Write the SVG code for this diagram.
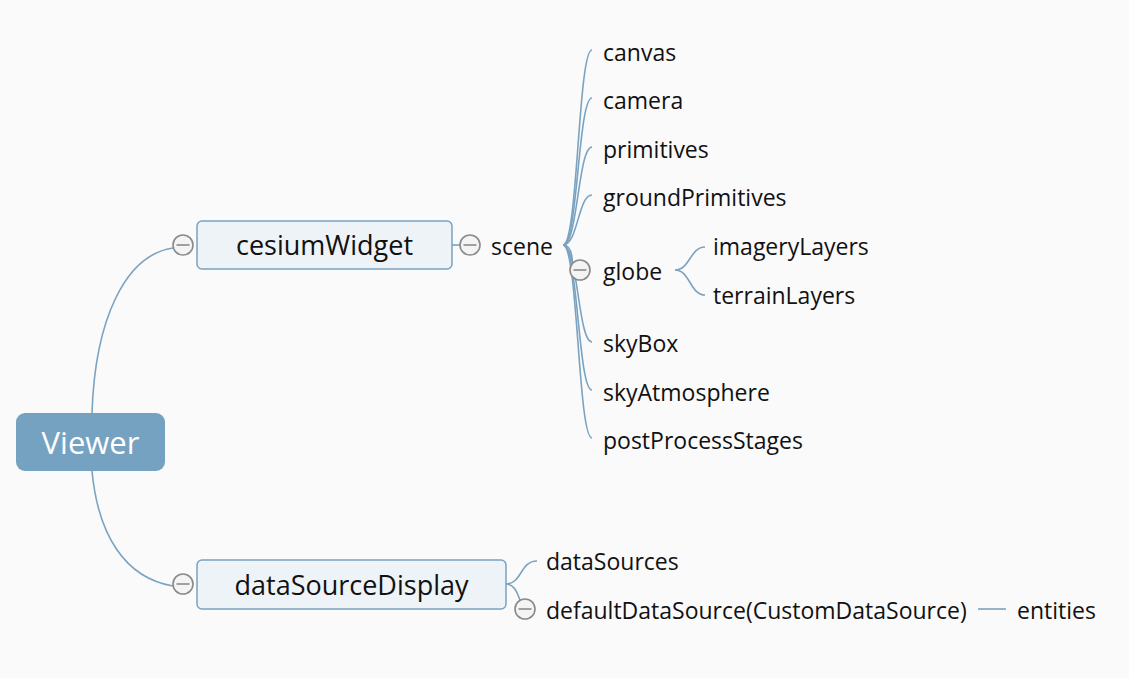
<svg xmlns="http://www.w3.org/2000/svg" width="1129" height="678" viewBox="0 0 1129 678">
<style>
.bg{fill:#fafafa}
.ln{fill:none;stroke:#7aa3c2;stroke-width:1.6}
.t{font-family:"Open Sans","Noto Sans",sans-serif;font-size:23px;fill:#111}
.tb{font-family:"Open Sans","Noto Sans",sans-serif;font-size:27px;fill:#111;text-anchor:middle}
.box{fill:#eef3f7;stroke:#7aa3c2;stroke-width:1.5}
.cc{fill:#f4f4f4;stroke:#8a8a8a;stroke-width:1.6}
.cl{stroke:#8a8a8a;stroke-width:1.6}
</style>
<defs>
<g id="col"><circle class="cc" r="10"/><line class="cl" x1="-6.5" y1="0" x2="6.5" y2="0"/></g>
</defs>
<rect class="bg" width="1129" height="678"/>
<g id="connectors">
<path class="ln" d="M92,413 C95,320 125,255 173,248"/>
<path class="ln" d="M92,471 C98,535 125,578 173,586"/>
<path class="ln" d="M452,245 L460,245"/>
<path class="ln" d="M563,245 C578,245 578,50 592,50"/>
<path class="ln" d="M563,245 C578,245 578,98 592,98"/>
<path class="ln" d="M563,245 C578,245 578,147 592,147"/>
<path class="ln" d="M563,245 C578,245 578,195 592,195"/>
<path class="ln" d="M563,245 C575,245 572,270 572,270"/>
<path class="ln" d="M563,245 C578,245 578,342 592,342"/>
<path class="ln" d="M563,245 C578,245 578,390 592,390"/>
<path class="ln" d="M563,245 C578,245 578,438 592,438"/>
<path class="ln" d="M675,270 C690,270 690,247 705,247"/>
<path class="ln" d="M675,270 C690,270 690,295 705,295"/>
<path class="ln" d="M506,584 C522,584 520,561 537,561"/>
<path class="ln" d="M506,584 C515,584 518,595 520,600"/>
<path class="ln" d="M978,609 L1006,609"/>
</g>
<g id="viewer"><rect x="16" y="413" width="149" height="58" rx="9" fill="#76a2c2"/><text x="90.5" y="454" font-family="Open Sans,Noto Sans,sans-serif" font-size="31" fill="#fff" text-anchor="middle">Viewer</text></g>
<g id="cesiumWidget"><rect class="box" x="197" y="221" width="255" height="48" rx="5"/><text class="tb" x="324.5" y="255">cesiumWidget</text><use href="#col" x="183" y="245"/></g>
<g id="scene"><use href="#col" x="470" y="245"/><text class="t" x="491" y="255">scene</text></g>
<g id="canvas"><text class="t" x="603" y="61">canvas</text></g>
<g id="camera"><text class="t" x="603" y="109">camera</text></g>
<g id="primitives"><text class="t" x="603" y="158">primitives</text></g>
<g id="groundPrimitives"><text class="t" x="603" y="206">groundPrimitives</text></g>
<g id="globe"><use href="#col" x="580" y="270"/><text class="t" x="603" y="280">globe</text></g>
<g id="imageryLayers"><text class="t" x="713" y="255">imageryLayers</text></g>
<g id="terrainLayers"><text class="t" x="713" y="304">terrainLayers</text></g>
<g id="skyBox"><text class="t" x="603" y="352">skyBox</text></g>
<g id="skyAtmosphere"><text class="t" x="603" y="401">skyAtmosphere</text></g>
<g id="postProcessStages"><text class="t" x="603" y="449">postProcessStages</text></g>
<g id="dataSourceDisplay"><rect class="box" x="197" y="560" width="309" height="49" rx="5"/><text class="tb" x="351.5" y="595">dataSourceDisplay</text><use href="#col" x="183" y="584"/></g>
<g id="dataSources"><text class="t" x="546" y="570">dataSources</text></g>
<g id="defaultDataSource"><use href="#col" x="525" y="609"/><text class="t" x="546" y="619">defaultDataSource(CustomDataSource)</text></g>
<g id="entities"><text class="t" x="1017" y="619">entities</text></g>
</svg>
